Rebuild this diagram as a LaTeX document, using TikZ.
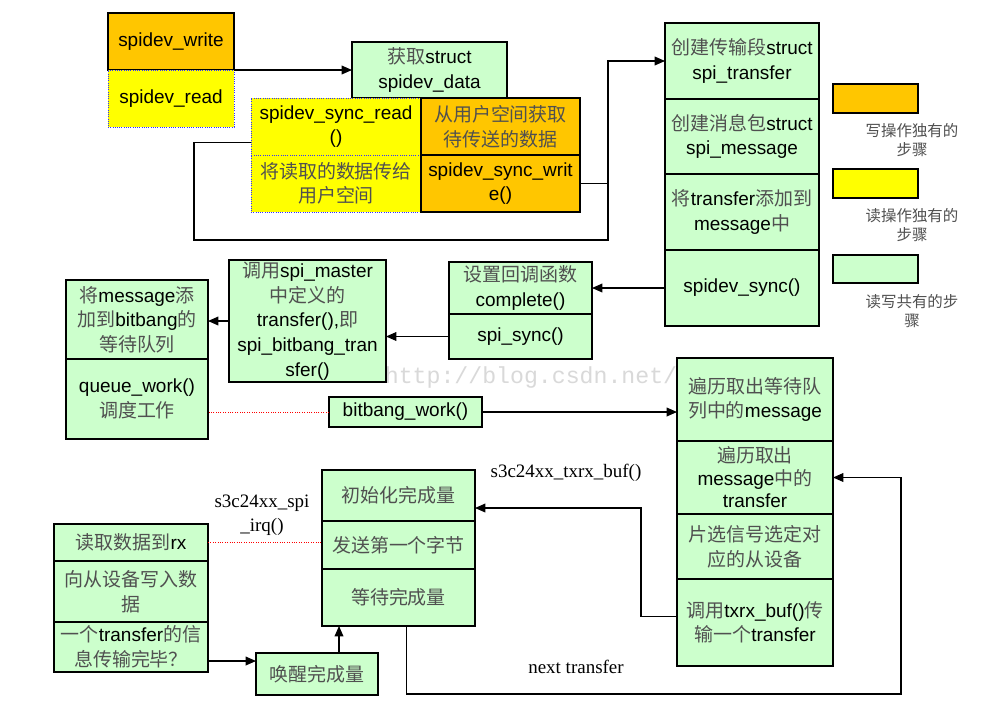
\documentclass[tikz,border=0pt]{standalone}
\usepackage{fontspec}
\setmainfont{Liberation Sans}
\newfontfamily\cjk{Noto Sans CJK SC}
\newfontfamily\serifl{Liberation Serif}
\newfontfamily\monol{Liberation Mono}
\usetikzlibrary{arrows.meta,positioning,calc}
\definecolor{Ink}{HTML}{000000}
\definecolor{ZhInk}{HTML}{505050}
\definecolor{WriteOrange}{HTML}{FFC600}
\definecolor{ReadYellow}{HTML}{FFFF00}
\definecolor{ShareGreen}{HTML}{CCFFCC}
\definecolor{DotBlue}{HTML}{3333FF}
\definecolor{DotRed}{HTML}{FF0000}
\definecolor{Mark}{HTML}{D9D9D9}
\newcommand{\zh}[1]{{\cjk\color{ZhInk}#1}}
\tikzset{
  wh/.style 2 args={minimum width=#1*0.25mm,minimum height=#2*0.25mm},
  blk/.style={draw=Ink,line width=0.8pt,inner sep=0pt,outer sep=0pt,align=center,text=Ink,font=\fontsize{13.5}{17.5}\selectfont},
  blkgreen/.style={blk,fill=ShareGreen},
  blkorange/.style={blk,fill=WriteOrange},
  blkyellow/.style={blk,fill=ReadYellow,draw=DotBlue,line width=0.6pt,densely dotted},
  arrow/.style={-{Triangle[length=2.6mm,width=2.2mm]},line width=0.8pt,draw=Ink},
  link/.style={line width=0.8pt,draw=Ink},
  reddot/.style={line width=0.7pt,draw=DotRed,densely dotted},
  serifnote/.style={font=\serifl\fontsize{13.5}{17}\selectfont,align=center,text=Ink},
  legendnote/.style={font=\cjk\fontsize{11}{14}\selectfont,align=center,text=ZhInk}
}
\begin{document}
\begin{tikzpicture}[x=0.25mm,y=-0.25mm]
\fill[white] (0,0) rectangle (994,710);
\useasboundingbox (0,0) rectangle (994,710);
\node[font=\monol\fontsize{16.5}{18}\selectfont,text=Mark] (mark) at (531,377) {http://blog.csdn.net/};

\node[blkorange,wh={126}{57}] (wr) at (171,41.5) {spidev\_write};
\node[blkyellow,wh={126}{57},below=0pt of wr] (rd) {spidev\_read};
\node[blkgreen,wh={155}{56}] (getdata) at (429.5,70) {\zh{获取}struct\\spidev\_data};
\node[blkyellow,wh={170}{57}] (sread) at (336,126.5) {spidev\_sync\_read\\()};
\node[blkyellow,wh={170}{57},below=0pt of sread] (rcopy) {\zh{将读取的数据传给}\\\zh{用户空间}};
\node[blkorange,wh={159}{57},right=0pt of sread] (wfetch) {\zh{从用户空间获取}\\\zh{待传送的数据}};
\node[blkorange,wh={159}{57},below=0pt of wfetch] (swrite) {spidev\_sync\_writ\\e()};

\node[blkgreen,wh={154}{76}] (mktr) at (742,61) {\zh{创建传输段}struct\\spi\_transfer};
\node[blkgreen,wh={154}{75},below=0pt of mktr] (mkmsg) {\zh{创建消息包}struct\\spi\_message};
\node[blkgreen,wh={154}{76},below=0pt of mkmsg] (addtr) {\zh{将}transfer\zh{添加到}\\message\zh{中}};
\node[blkgreen,wh={154}{76},below=0pt of addtr] (sync) {spidev\_sync()};

\node[blkorange,wh={85}{29}] (lgw) at (875.5,98.5) {};
\node[legendnote] (lgwt) at (912,140) {写操作独有的\\步骤};
\node[blk,fill=ReadYellow,wh={85}{29}] (lgr) at (875.5,183.5) {};
\node[legendnote] (lgrt) at (912,225) {读操作独有的\\步骤};
\node[blkgreen,wh={85}{28}] (lgc) at (875.5,269) {};
\node[legendnote] (lgct) at (912,311) {读写共有的步\\骤};

\node[blkgreen,wh={143}{52}] (cb) at (520.5,288) {\zh{设置回调函数}\\complete()};
\node[blkgreen,wh={143}{45},below=0pt of cb] (ssync) {spi\_sync()};
\node[blkgreen,wh={157}{122}] (master) at (307.5,321) {\zh{调用}spi\_master\\\zh{中定义的}\\transfer(),\zh{即}\\spi\_bitbang\_tran\\sfer()};
\node[blkgreen,wh={142}{79}] (queue) at (137,319.5) {\zh{将}message\zh{添}\\\zh{加到}bitbang\zh{的}\\\zh{等待队列}};
\node[blkgreen,wh={142}{80},below=0pt of queue] (qwork) {queue\_work()\\\zh{调度工作}};
\node[blkgreen,wh={153}{30}] (bbwork) at (405.5,412) {bitbang\_work()};

\node[blkgreen,wh={156}{83}] (walk) at (755,399.5) {\zh{遍历取出等待队}\\\zh{列中的}message};
\node[blkgreen,wh={156}{73},below=0pt of walk,font=\fontsize{13.5}{16}\selectfont] (walk2) {\zh{遍历取出}\\message\zh{中的}\\transfer};
\node[blkgreen,wh={156}{65},below=0pt of walk2] (cs) {\zh{片选信号选定对}\\\zh{应的从设备}};
\node[blkgreen,wh={156}{87},below=0pt of cs] (txrx) {\zh{调用}txrx\_buf()\zh{传}\\\zh{输一个}transfer};

\node[blkgreen,wh={153}{51}] (init) at (398.5,495.5) {\zh{初始化完成量}};
\node[blkgreen,wh={153}{48},below=0pt of init] (send) {\zh{发送第一个字节}};
\node[blkgreen,wh={153}{57},below=0pt of send] (wait) {\zh{等待完成量}};
\node[blkgreen,wh={154}{37}] (rx) at (131,542.5) {\zh{读取数据到}rx};
\node[blkgreen,wh={154}{61},below=0pt of rx] (wrdev) {\zh{向从设备写入数}\\\zh{据}};
\node[blkgreen,wh={154}{50},below=0pt of wrdev] (done) {\zh{一个}transfer\zh{的信}\\\zh{息传输完毕？}};
\node[blkgreen,wh={122}{42}] (wake) at (317,674) {\zh{唤醒完成量}};

\draw[arrow] (wr.south east) -- (getdata.west);
\coordinate (loopL) at (194,240);
\coordinate (loopR) at (608,240);
\draw[arrow] ([yshift=-4.1mm]sread.west) -| (loopL) -- (loopR) |- (mktr.west);
\draw[link] (swrite.east) -- (swrite.east -| loopR);
\draw[arrow] (sync.west) -- (cb.east);
\draw[arrow] (ssync.west) -- (ssync.west -| master.east);
\draw[arrow] (master.west) -- (master.west -| queue.east);
\draw[reddot] (bbwork.west) -- (bbwork.west -| qwork.east);
\draw[arrow] (bbwork.east) -- (bbwork.east -| walk.west);
\coordinate (txup) at (641,508);
\draw[arrow] ([yshift=1.6mm]txrx.west) -| (txup) -- (txup -| init.east);
\node[serifnote] (txlbl) at (566,473) {s3c24xx\_txrx\_buf()};
\coordinate (ntcorner) at (901,694);
\draw[arrow] ([xshift=2.1mm]wait.south) |- (ntcorner) |- (walk2.east);
\node[serifnote] (ntlbl) at (576,667) {next transfer};
\draw[reddot] (rx.east) -- (rx.east -| send.west);
\node[serifnote] (irqlbl) at (262,515) {s3c24xx\_spi\\\_irq()};
\coordinate (donept) at ([yshift=-3.5mm]done.east);
\draw[arrow] (donept) -- (donept -| wake.west);
\coordinate (wakept) at ([xshift=5.5mm]wake.north);
\draw[arrow] (wakept) -- (wakept |- wait.south);
\end{tikzpicture}
\end{document}
